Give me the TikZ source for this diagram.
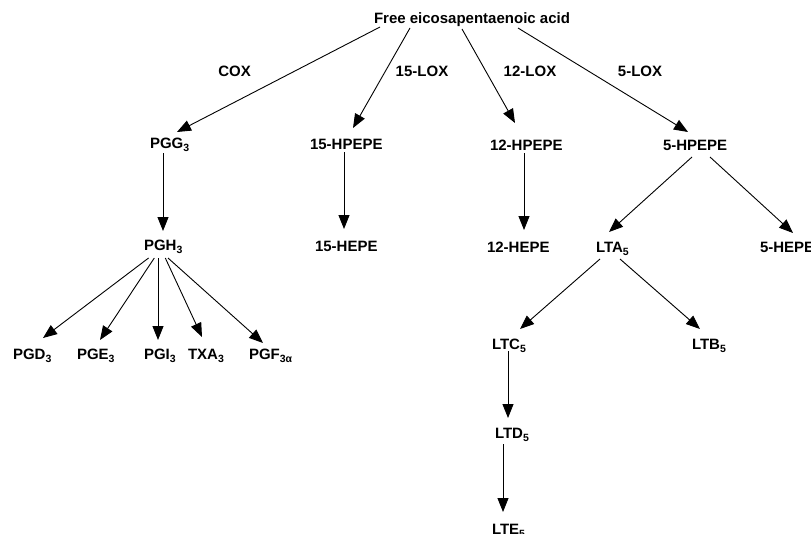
\documentclass[tikz,border=0pt]{standalone}
\usepackage{fontspec}
\setmainfont{Liberation Sans}
\usetikzlibrary{arrows.meta}
\newcommand\sbx[1]{\raisebox{-3pt}{\fontsize{10.5}{10.5}\selectfont #1}}
\tikzset{
  lbl/.style={inner sep=0pt, outer sep=0pt, font=\fontsize{15}{18}\selectfont\bfseries, anchor=base west},
  ctr/.style={lbl, anchor=base},
  arr/.style={-{Triangle[length=14pt,width=11pt]}, line width=0.9pt, black}
}
\begin{document}
\begin{tikzpicture}[x=1pt,y=-1pt]
\useasboundingbox (0,0) rectangle (811,533);
\clip (0,0) rectangle (811,533);
% nodes
\node[ctr] (epa) at (472,23) {Free eicosapentaenoic acid};
\node[ctr] (cox) at (234.5,76) {COX};
\node[ctr] (lox15) at (422,76) {15-LOX};
\node[ctr] (lox12) at (530,76) {12-LOX};
\node[ctr] (lox5) at (640,76) {5-LOX};
\node[lbl] (pgg) at (150,148.5) {PGG\sbx{3}};
\node[lbl] (hp15) at (310,149) {15-HPEPE};
\node[lbl] (hp12) at (490,150) {12-HPEPE};
\node[lbl] (hp5) at (663,150) {5-HPEPE};
\node[lbl] (pgh) at (144,250.5) {PGH\sbx{3}};
\node[lbl] (he15) at (315,251) {15-HEPE};
\node[lbl] (he12) at (487,252) {12-HEPE};
\node[lbl] (lta) at (596,252) {LTA\sbx{5}};
\node[lbl] (he5) at (760,252) {5-HEPE};
\node[lbl] (pgd) at (13,359) {PGD\sbx{3}};
\node[lbl] (pge) at (77,359) {PGE\sbx{3}};
\node[lbl] (pgi) at (144,359) {PGI\sbx{3}};
\node[lbl] (txa) at (188,359) {TXA\sbx{3}};
\node[lbl] (pgf) at (249,359) {PGF\sbx{3α}};
\node[lbl] (ltc) at (492,349) {LTC\sbx{5}};
\node[lbl] (ltb) at (692,349) {LTB\sbx{5}};
\node[lbl] (ltd) at (495,438) {LTD\sbx{5}};
\node[lbl] (lte) at (492,534) {LTE\sbx{5}};
% connectors
\draw[arr] ([shift={(-92,4)}]epa.base) -- ([shift={(27,-16.5)}]pgg.base west);
\draw[arr] ([shift={(-62,5)}]epa.base) -- ([shift={(43,-21)}]hp15.base west);
\draw[arr] ([shift={(-10,6)}]epa.base) -- ([shift={(25,-27)}]hp12.base west);
\draw[arr] ([shift={(46,5)}]epa.base) -- ([shift={(25,-18)}]hp5.base west);
\draw[arr] ([shift={(13,4.5)}]pgg.base west) -- ([shift={(19,-19.5)}]pgh.base west);
\draw[arr] ([shift={(34,3)}]hp15.base west) -- ([shift={(29,-22)}]he15.base west);
\draw[arr] ([shift={(34,3)}]hp12.base west) -- ([shift={(37,-22)}]he12.base west);
\draw[arr] ([shift={(29,7)}]hp5.base west) -- ([shift={(13,-20)}]lta.base west);
\draw[arr] ([shift={(47,7)}]hp5.base west) -- ([shift={(33,-19)}]he5.base west);
\draw[arr] ([shift={(4.6,7.5)}]pgh.base west) -- ([shift={(30,-21)}]pgd.base west);
\draw[arr] ([shift={(10.3,7.5)}]pgh.base west) -- ([shift={(23,-19)}]pge.base west);
\draw[arr] ([shift={(14,7.5)}]pgh.base west) -- ([shift={(14,-19)}]pgi.base west);
\draw[arr] ([shift={(21.3,7.5)}]pgh.base west) -- ([shift={(14,-22)}]txa.base west);
\draw[arr] ([shift={(24,7.5)}]pgh.base west) -- ([shift={(14,-16)}]pgf.base west);
\draw[arr] ([shift={(4,7)}]lta.base west) -- ([shift={(28,-20)}]ltc.base west);
\draw[arr] ([shift={(24,7)}]lta.base west) -- ([shift={(8,-20)}]ltb.base west);
\draw[arr] ([shift={(16,2)}]ltc.base west) -- ([shift={(13,-20)}]ltd.base west);
\draw[arr] ([shift={(8,6)}]ltd.base west) -- ([shift={(11,-22)}]lte.base west);
\end{tikzpicture}
\end{document}
